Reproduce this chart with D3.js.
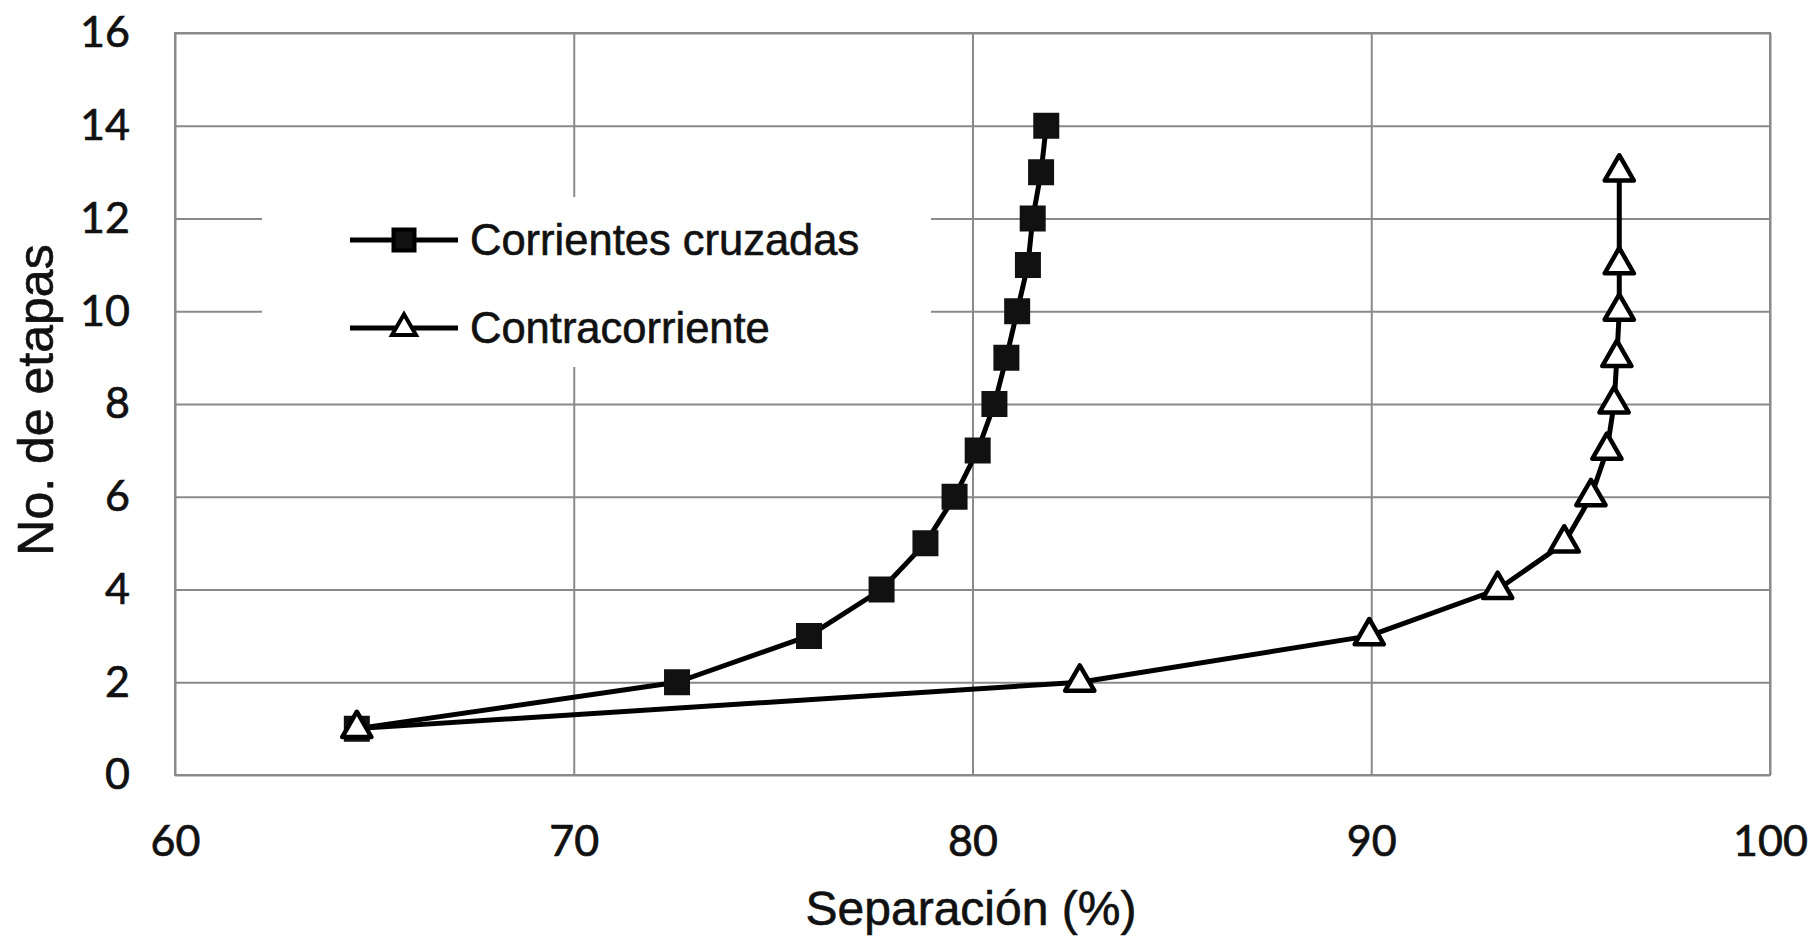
<!DOCTYPE html>
<html>
<head>
<meta charset="utf-8">
<script src="https://cdn.jsdelivr.net/npm/d3@7"></script>
<style>
  html, body { margin: 0; padding: 0; background: #fff; }
</style>
</head>
<body>
<script>
const WIDTH = 1812;
const HEIGHT = 940;
const MARGIN = { top: 33, right: 42, bottom: 165, left: 175 };

// data
const seriesNames = ["Corrientes cruzadas", "Contracorriente"];
const crossStages = [1, 2, 3, 4, 5, 6, 7, 8, 9, 10, 11, 12, 13, 14];
const crossSeparation = [64.56, 72.59, 75.9, 77.72, 78.82, 79.55, 80.13, 80.55, 80.85, 81.12, 81.39, 81.51, 81.72, 81.85];
const counterStages = [1, 2, 3, 4, 5, 6, 7, 8, 9, 10, 11, 13];
const counterSeparation = [64.56, 82.69, 89.95, 93.17, 94.84, 95.51, 95.91, 96.09, 96.16, 96.22, 96.22, 96.22];
const xTicks = [60, 70, 80, 90, 100];
const yTicks = [0, 2, 4, 6, 8, 10, 12, 14, 16];
const xTitle = "Separación (%)";
const yTitle = "No. de etapas";

const chartWidth = WIDTH - MARGIN.left - MARGIN.right;
const chartHeight = HEIGHT - MARGIN.top - MARGIN.bottom;

const x = d3.scaleLinear().domain([60, 100]).range([0, chartWidth]);
const y = d3.scaleLinear().domain([0, 16]).range([chartHeight, 0]);

const svg = d3.select("body")
  .append("svg")
  .attr("width", WIDTH)
  .attr("height", HEIGHT)
  .attr("viewBox", `0 0 ${WIDTH} ${HEIGHT}`);

svg.append("rect").attr("width", WIDTH).attr("height", HEIGHT).attr("fill", "#fff");

const g = svg.append("g").attr("transform", `translate(${MARGIN.left},${MARGIN.top})`);

const GRID = "#8a8a8a";
const INK = "#111";
const TICK_FONT = "Lato, 'Open Sans', sans-serif";
const TEXT_FONT = "'Liberation Sans', Arial, sans-serif";

// y grid + labels
const yAxis = g.append("g")
  .call(d3.axisLeft(y).tickValues(yTicks).tickSize(-chartWidth).tickPadding(45).tickFormat(d3.format("d")));
yAxis.select(".domain").remove();
yAxis.selectAll(".tick line").attr("stroke", GRID).attr("stroke-width", 2);
yAxis.selectAll("text")
  .attr("fill", INK).attr("stroke", INK).attr("stroke-width", 0.7)
  .attr("font-size", "43px").attr("font-family", TICK_FONT);

// x grid + labels
const xAxis = g.append("g")
  .attr("transform", `translate(0,${chartHeight})`)
  .call(d3.axisBottom(x).tickValues(xTicks).tickSize(-chartHeight).tickPadding(50).tickFormat(d3.format("d")));
xAxis.select(".domain").remove();
xAxis.selectAll(".tick line").attr("stroke", GRID).attr("stroke-width", 2);
xAxis.selectAll("text")
  .attr("fill", INK).attr("stroke", INK).attr("stroke-width", 0.7)
  .attr("font-size", "43px").attr("font-family", TICK_FONT);

// plot border
g.append("rect")
  .attr("width", chartWidth)
  .attr("height", chartHeight)
  .attr("fill", "none")
  .attr("stroke", GRID)
  .attr("stroke-width", 2);

// legend box hides the grid behind it
const legend = g.append("g");
legend.append("rect")
  .attr("x", 262 - MARGIN.left)
  .attr("y", 197 - MARGIN.top)
  .attr("width", 669)
  .attr("height", 170)
  .attr("fill", "#fff");

const squareSym = d3.symbol(d3.symbolSquare);
const triangleSym = d3.symbol(d3.symbolTriangle);

const line = d3.line()
  .x((d) => x(d[0]))
  .y((d) => y(d[1]));

const crossPts = crossSeparation.map((v, i) => [v, crossStages[i]]);
const counterPts = counterSeparation.map((v, i) => [v, counterStages[i]]);

// Contracorriente
g.append("path")
  .attr("d", line(counterPts))
  .attr("fill", "none")
  .attr("stroke", "#000")
  .attr("stroke-width", 5)
  .attr("stroke-linejoin", "round");

// Corrientes cruzadas
g.append("path")
  .attr("d", line(crossPts))
  .attr("fill", "none")
  .attr("stroke", "#000")
  .attr("stroke-width", 5)
  .attr("stroke-linejoin", "round");

g.selectAll(".sq")
  .data(crossPts)
  .join("path")
  .attr("class", "sq")
  .attr("transform", (d) => `translate(${x(d[0])},${y(d[1])})`)
  .attr("d", squareSym.size(23 * 23)())
  .attr("fill", INK)
  .attr("stroke", INK)
  .attr("stroke-width", 3);

g.selectAll(".tri")
  .data(counterPts)
  .join("path")
  .attr("class", "tri")
  .attr("transform", (d) => `translate(${x(d[0])},${y(d[1])})`)
  .attr("d", triangleSym.size(370)())
  .attr("fill", "#fff")
  .attr("stroke", "#000")
  .attr("stroke-width", 4.5)
  .attr("stroke-linejoin", "round");

// legend entries
const legendRows = [
  { name: seriesNames[0], sym: squareSym.size(21 * 21)(), fill: INK, y: 240 },
  { name: seriesNames[1], sym: triangleSym.size(250)(), fill: "#fff", y: 328 },
];
legendRows.forEach((r) => {
  const row = legend.append("g").attr("transform", `translate(${350 - MARGIN.left},${r.y - MARGIN.top})`);
  row.append("line")
    .attr("x1", 0).attr("x2", 108)
    .attr("stroke", "#000").attr("stroke-width", 5);
  row.append("path")
    .attr("d", r.sym)
    .attr("transform", "translate(54,0)")
    .attr("fill", r.fill)
    .attr("stroke", "#000")
    .attr("stroke-width", 4);
  row.append("text")
    .attr("x", 120)
    .attr("y", 15)
    .attr("fill", INK)
    .attr("stroke", INK)
    .attr("stroke-width", 0.6)
    .attr("font-size", "43.5px")
    .attr("font-family", TEXT_FONT)
    .text(r.name);
});

// axis titles
svg.append("text")
  .attr("x", 971)
  .attr("y", 925)
  .attr("text-anchor", "middle")
  .attr("fill", INK)
  .attr("stroke", INK)
  .attr("stroke-width", 0.6)
  .attr("font-size", "48px")
  .attr("font-family", TEXT_FONT)
  .text(xTitle);

svg.append("text")
  .attr("transform", "translate(53,400) rotate(-90)")
  .attr("text-anchor", "middle")
  .attr("fill", INK)
  .attr("stroke", INK)
  .attr("stroke-width", 0.6)
  .attr("font-size", "50px")
  .attr("font-family", TEXT_FONT)
  .text(yTitle);
</script>
</body>
</html>
